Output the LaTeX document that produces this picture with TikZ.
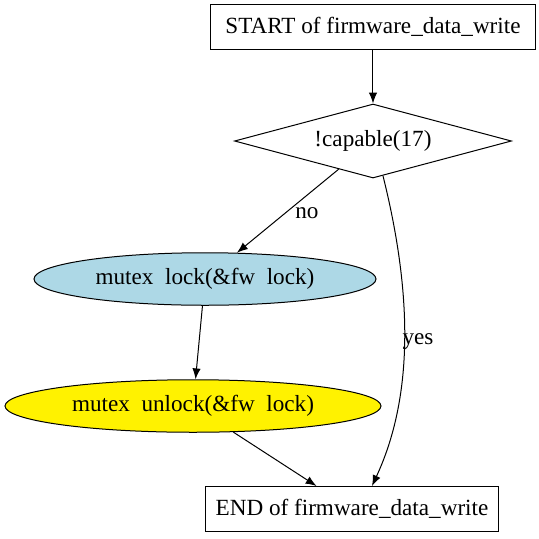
\documentclass[tikz,border=0pt]{standalone}
\usepackage{fontspec}
\setmainfont{Liberation Serif}
\usetikzlibrary{shapes.geometric}
\usetikzlibrary{arrows.meta}
\definecolor{lightblue}{HTML}{ADD8E6}
\tikzstyle{endpoint}=[draw,rectangle,inner sep=0pt,minimum height=27pt]
\tikzstyle{condition}=[draw,diamond,aspect=3.75,inner sep=0pt,minimum width=166.2pt,minimum height=44.4pt]
\tikzstyle{call}=[draw,ellipse,inner sep=0pt,minimum height=31.5pt]
\tikzstyle{flow}=[-{Latex[length=6.5pt,width=5pt]}]

\begin{document}
\begin{tikzpicture}[x=0.6pt,y=-0.6pt,line width=0.6pt,font=\fontsize{13.9}{16}\selectfont]
\useasboundingbox (0,0) rectangle (539,539);
\node[endpoint,minimum width=195.6pt] (start) at (373,27) {START of firmware\_data\_write};
\node[condition] (capable) at (373,141) {!capable(17)};
\node[call,fill=lightblue,minimum width=205.2pt] (lock) at (205,279) {mutex\ \ lock(\&fw\ \ lock)};
\node[call,fill=yellow,minimum width=225.6pt] (unlock) at (193,406) {mutex\ \ unlock(\&fw\ \ lock)};
\node[endpoint,minimum width=175.8pt] (end) at (352,509) {END of firmware\_data\_write};
\draw[flow] (start) -- (capable);
\draw[flow] (capable) -- (lock);
\node at (307,213) {no};
\draw[flow] (capable.-74) .. controls (414,300) and (412,400) .. (end.49);
\node at (418,342) {yes};
\draw[flow] (lock) -- (unlock);
\draw[flow] (unlock) -- (end);
\end{tikzpicture}
\end{document}
